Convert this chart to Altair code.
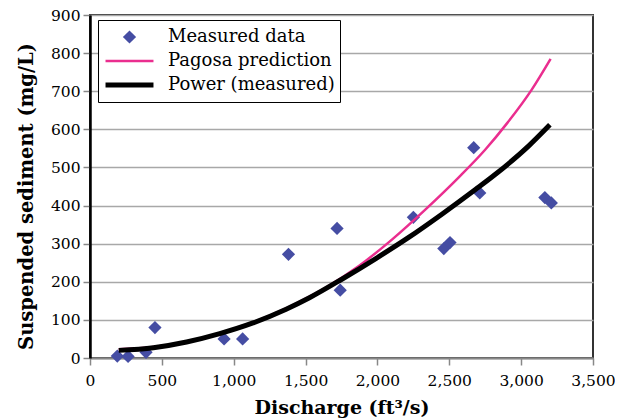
import altair as alt
import pandas as pd

series_names = ["Measured data", "Pagosa prediction", "Power (measured)"]

meas_x = [190, 265, 390, 452, 933, 1062, 1381, 1719, 1741, 2250, 2462, 2505, 2670, 2712, 3165, 3210]
meas_y = [5, 4, 15, 80, 50, 50, 272, 340, 178, 369, 287, 303, 552, 433, 421, 407]

pagosa_x = [200, 441, 672, 903, 1134, 1365, 1527, 1642, 1873, 2105, 2335, 2566, 2751, 2900, 3075, 3205]
pagosa_y = [23, 29, 43, 65, 93, 130, 161, 185, 242, 312, 390, 474, 547, 615, 705, 785]

power_x = [200, 441, 672, 903, 1134, 1365, 1527, 1758, 1989, 2220, 2451, 2682, 2821, 3051, 3200]
power_y = [20, 27, 42, 64, 92, 128, 158, 208, 261, 317, 378, 442, 482, 556, 612]

x_ticks = [0, 500, 1000, 1500, 2000, 2500, 3000, 3500]
y_ticks = [0, 100, 200, 300, 400, 500, 600, 700, 800, 900]

pts = pd.DataFrame({"x": meas_x, "y": meas_y, "series": series_names[0]})
lines = pd.concat([
    pd.DataFrame({"x": pagosa_x, "y": pagosa_y, "series": series_names[1]}),
    pd.DataFrame({"x": power_x, "y": power_y, "series": series_names[2]}),
])

FONT = "DejaVu Serif"
BLUE = "#454da3"
PINK = "#ea2e8f"
BLACK = "#000000"

leg = alt.Legend(
    title=None, orient="none", legendX=8, legendY=5, fillColor="white", strokeColor="black",
    padding=5, labelFont=FONT, labelFontSize=18, labelColor="black", labelOffset=12,
    labelLimit=400, clipHeight=24, rowPadding=0,
)

xenc = alt.X("x:Q", scale=alt.Scale(domain=[0, 3500], nice=False),
             axis=alt.Axis(values=x_ticks, format=",d", grid=False, title="Discharge (ft³/s)",
                           domainColor="#888888", domainWidth=2, tickColor="#888888",
                           tickSize=7, tickWidth=1.5, labelPadding=8, titlePadding=10,
                           labelFlush=False,
                           labelFont=FONT, labelFontSize=15.5, labelColor="black",
                           titleFont=FONT, titleFontSize=19, titleFontWeight="bold", titleColor="black"))
yenc = alt.Y("y:Q", scale=alt.Scale(domain=[0, 900], nice=False),
             axis=alt.Axis(values=y_ticks, grid=True, gridColor="#a8a8a8", gridWidth=1.3,
                           title="Suspended sediment (mg/L)", domainColor="black", domainWidth=2.5,
                           tickColor="#888888", tickSize=7, tickWidth=1.5, labelPadding=3,
                           titlePadding=14, titleY=181, labelFlush=False,
                           labelFont=FONT, labelFontSize=15.5, labelColor="black",
                           titleFont=FONT, titleFontSize=19.5, titleFontWeight="bold", titleColor="black"))

points = alt.Chart(pts).mark_point(filled=True, opacity=1).encode(
    x=xenc, y=yenc,
    fill=alt.Fill("series:N", scale=alt.Scale(domain=series_names, range=[BLUE, "transparent", "transparent"]), legend=leg),
    shape=alt.Shape("series:N", scale=alt.Scale(domain=series_names, range=["diamond", "stroke", "stroke"]), legend=leg),
    size=alt.Size("series:N", scale=alt.Scale(type="ordinal", domain=series_names, range=[175, 2300, 2300]), legend=leg),
)

curves = alt.Chart(lines).mark_line(interpolate="monotone").encode(
    x=xenc, y=yenc,
    stroke=alt.Stroke("series:N", scale=alt.Scale(domain=series_names, range=[BLUE, PINK, BLACK]), legend=leg),
    strokeWidth=alt.StrokeWidth("series:N", scale=alt.Scale(type="ordinal", domain=series_names, range=[0, 2.5, 5]), legend=leg),
    detail="series:N",
)

chart = alt.layer(points, curves).properties(
    width=503, height=343,
    background="white",
    autosize=alt.AutoSizeParams(type="none"),
    padding={"left": 82, "top": 7, "right": 22, "bottom": 60},
).configure_view(
    stroke="#333333", strokeWidth=2
)

chart.save("out.html", embed_options={"renderer": "svg", "actions": False})
